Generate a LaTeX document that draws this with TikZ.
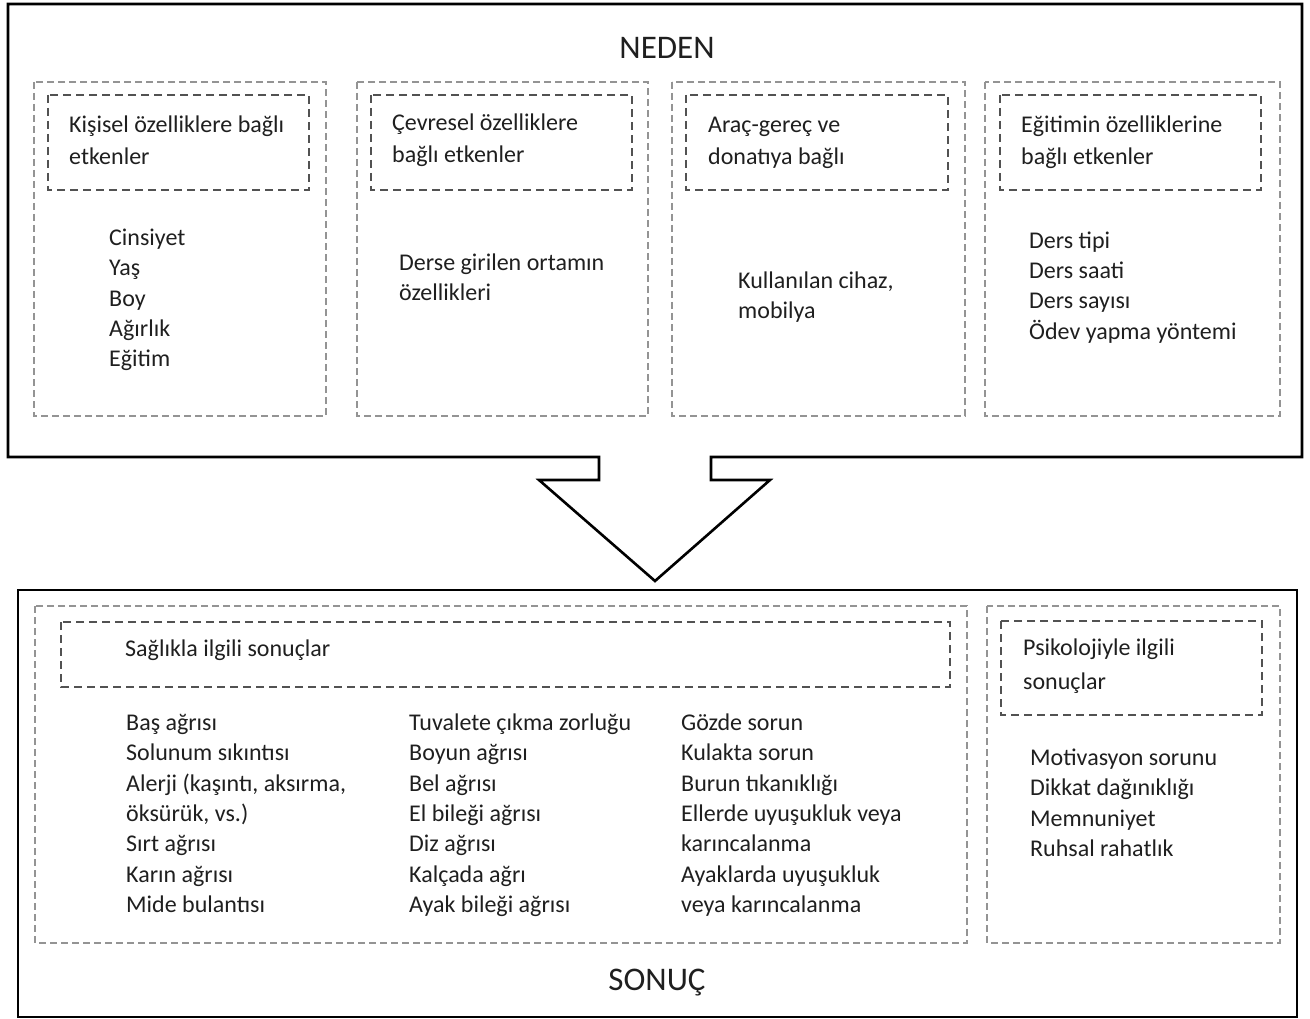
\documentclass[tikz,border=0pt]{standalone}
\usepackage{fontspec}
\setmainfont{Carlito}
\begin{document}
\begin{tikzpicture}[x=1pt,y=-1pt,
  frame/.style={line width=2.6pt, draw=black, line join=miter},
  colbox/.style={draw=black!42, line width=2pt, dash pattern=on 7pt off 4pt},
  headbox/.style={draw=black!68, line width=2pt, dash pattern=on 8pt off 5pt},
  txt/.style={font=\fontsize{24}{30.3}\selectfont, align=left, inner sep=0pt, anchor=west, text=black!88},
  htxt/.style={font=\fontsize{24}{32}\selectfont, align=left, inner sep=0pt, anchor=west, text=black!88},
  title/.style={font=\fontsize{33}{38}\selectfont, inner sep=0pt, text=black!88}]
\useasboundingbox (0,0) rectangle (1310,1019);
% top frame with arrow
\draw[frame] (599,457) -- (599,480) -- (539,480) -- (655,581) -- (770,480) -- (711,480) -- (711,457)
  -- (1302,457) -- (1302,4) -- (8,4) -- (8,457) -- cycle;
% bottom frame
\draw[frame] (18,590) rectangle (1297,1017);
% top column boxes
\draw[colbox] (34,82) rectangle (326,416);
\draw[colbox] (357,82) rectangle (648,416);
\draw[colbox] (672,82) rectangle (965,416);
\draw[colbox] (985,82) rectangle (1280,416);
\draw[headbox] (48,95) rectangle (309,190);
\draw[headbox] (371,95) rectangle (632,190);
\draw[headbox] (686,95) rectangle (948,190);
\draw[headbox] (1000,95) rectangle (1261,190);
% bottom boxes
\draw[colbox] (35,606) rectangle (967,943);
\draw[colbox] (987,606) rectangle (1280,943);
\draw[headbox] (61,622) rectangle (950,687);
\draw[headbox] (1001,621) rectangle (1262,715);
% titles
\node[title] (neden) at (667,48) {NEDEN};
\node[title] (sonuc) at (657,983) {SONUÇ};
% top texts
\node[htxt] (h1) at (69,142) {\strut Kişisel özelliklere bağlı\\\strut etkenler};
\node[txt] (b1) at (109,300) {\strut Cinsiyet\\\strut Yaş\\\strut Boy\\\strut Ağırlık\\\strut Eğitim};
\node[htxt] (h2) at (392,140) {\strut Çevresel özelliklere\\\strut bağlı etkenler};
\node[txt] (b2) at (399,279.5) {\strut Derse girilen ortamın\\\strut özellikleri};
\node[htxt] (h3) at (708,142) {\strut Araç-gereç ve\\\strut donatıya bağlı};
\node[txt] (b3) at (738,297.5) {\strut Kullanılan cihaz,\\\strut mobilya};
\node[htxt] (h4) at (1021,142) {\strut Eğitimin özelliklerine\\\strut bağlı etkenler};
\node[txt] (b4) at (1029,287.5) {\strut Ders tipi\\\strut Ders saati\\\strut Ders sayısı\\\strut Ödev yapma yöntemi};
% bottom texts
\node[txt] (h5) at (125,650.5) {\strut Sağlıkla ilgili sonuçlar};
\node[txt] (c1) at (126,815.5) {\strut Baş ağrısı\\\strut Solunum sıkıntısı\\\strut Alerji (kaşıntı, aksırma,\\\strut öksürük, vs.)\\\strut Sırt ağrısı\\\strut Karın ağrısı\\\strut Mide bulantısı};
\node[txt] (c2) at (409,815.5) {\strut Tuvalete çıkma zorluğu\\\strut Boyun ağrısı\\\strut Bel ağrısı\\\strut El bileği ağrısı\\\strut Diz ağrısı\\\strut Kalçada ağrı\\\strut Ayak bileği ağrısı};
\node[txt] (c3) at (681,815.5) {\strut Gözde sorun\\\strut Kulakta sorun\\\strut Burun tıkanıklığı\\\strut Ellerde uyuşukluk veya\\\strut karıncalanma\\\strut Ayaklarda uyuşukluk\\\strut veya karıncalanma};
\node[htxt, font=\fontsize{24}{34}\selectfont] (h6) at (1023,665.5) {\strut Psikolojiyle ilgili\\\strut sonuçlar};
\node[txt] (c4) at (1030,805) {\strut Motivasyon sorunu\\\strut Dikkat dağınıklığı\\\strut Memnuniyet\\\strut Ruhsal rahatlık};
\end{tikzpicture}
\end{document}
